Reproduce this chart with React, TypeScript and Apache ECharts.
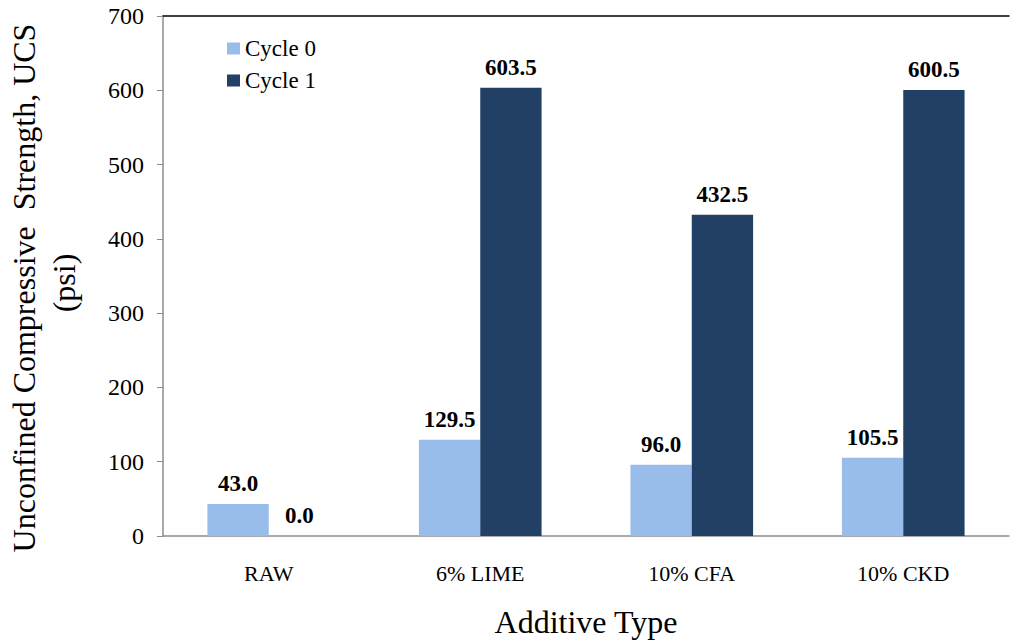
import React, { useEffect, useRef } from "react";
import * as echarts from "echarts";

const categories = ["RAW", "6% LIME", "10% CFA", "10% CKD"];
const cycle0 = [43.0, 129.5, 96.0, 105.5];
const cycle1 = [0.0, 603.5, 432.5, 600.5];
const seriesNames = ["Cycle 0", "Cycle 1"];
const yTitle1 = "Unconfined Compressive  Strength, UCS";
const yTitle2 = "(psi)";
const xTitle = "Additive Type";

const FONT = "Liberation Serif";

export default function App() {
  const ref = useRef<HTMLDivElement>(null);
  useEffect(() => {
    if (!ref.current) return;
    const chart = echarts.init(ref.current, null, { renderer: "svg" });
    const label = {
      show: true,
      position: "top",
      distance: 9,
      fontFamily: FONT,
      fontSize: 23,
      fontWeight: "bold",
      color: "#000",
      formatter: (p: any) => Number(p.value).toFixed(1),
    };
    chart.setOption({
      animation: false,
      backgroundColor: "#fff",
      textStyle: { fontFamily: FONT },
      grid: { left: 163, top: 16, right: 4, bottom: 108, containLabel: false },
      legend: {
        orient: "vertical",
        left: 222,
        top: 32,
        itemWidth: 13,
        itemHeight: 12,
        itemGap: 9,
        icon: "rect",
        textStyle: { fontFamily: FONT, fontSize: 23, color: "#000" },
        data: seriesNames,
      },
      xAxis: [
        {
          type: "category",
          data: categories,
          position: "bottom",
          axisLine: { lineStyle: { color: "#8c8c8c", width: 1.5 } },
          axisTick: { show: false },
          axisLabel: { fontFamily: FONT, fontSize: 22, color: "#000", margin: 26 },
          name: xTitle,
          nameLocation: "middle",
          nameGap: 70,
          nameTextStyle: { fontFamily: FONT, fontSize: 32, color: "#000" },
        },
        {
          type: "category",
          data: categories,
          position: "top",
          axisLine: { lineStyle: { color: "#000", width: 1.5 } },
          axisTick: { show: false },
          axisLabel: { show: false },
        },
      ],
      yAxis: {
        type: "value",
        min: 0,
        max: 700,
        interval: 100,
        axisLine: { show: true, lineStyle: { color: "#8c8c8c", width: 1.5 } },
        axisTick: { show: true, length: 6, lineStyle: { color: "#8c8c8c" } },
        splitLine: { show: false },
        axisLabel: { fontFamily: FONT, fontSize: 24, color: "#000", margin: 19 },
      },
      graphic: [
        {
          type: "text",
          x: 24,
          y: 288,
          rotation: Math.PI / 2,
          style: {
            text: yTitle1,
            fontFamily: FONT,
            fontSize: 32,
            fill: "#000",
            textAlign: "center",
            textVerticalAlign: "middle",
          },
        },
        {
          type: "text",
          x: 64,
          y: 283,
          rotation: Math.PI / 2,
          style: {
            text: yTitle2,
            fontFamily: FONT,
            fontSize: 32,
            fill: "#000",
            textAlign: "center",
            textVerticalAlign: "middle",
          },
        },
      ],
      series: [
        {
          name: seriesNames[0],
          type: "bar",
          data: cycle0,
          barWidth: "29%",
          barGap: "0%",
          itemStyle: { color: "#98bdea" },
          label,
        },
        {
          name: seriesNames[1],
          type: "bar",
          data: cycle1,
          barWidth: "29%",
          barGap: "0%",
          itemStyle: { color: "#223f66" },
          label,
        },
      ],
    });
    return () => chart.dispose();
  }, []);
  return <div ref={ref} style={{ width: 1013, height: 644, position: "fixed", left: 0, top: 0 }} />;
}
